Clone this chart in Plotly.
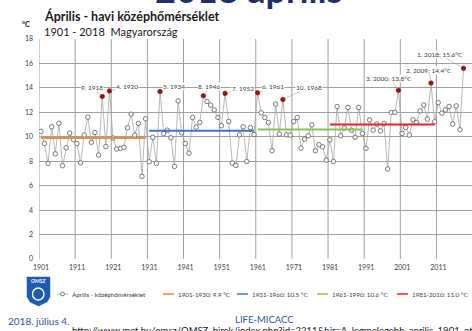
import plotly.graph_objects as go

# April monthly mean temperature, Hungary, 1901-2018 (°C)
years = list(range(1901, 2019))
temps = [
    10.44, 9.45, 7.82, 10.82, 8.60, 11.10, 7.63, 9.10, 10.30, 9.78,   # 1901-1910
    9.45, 7.87, 10.14, 11.60, 9.54, 10.35, 8.50, 13.30, 9.20, 13.75,  # 1911-1920
    9.90, 9.00, 9.05, 9.13, 10.74, 11.85, 10.14, 11.10, 6.76, 11.47,  # 1921-1930
    7.96, 9.95, 7.82, 13.70, 10.27, 10.54, 9.92, 7.57, 12.94, 10.33,  # 1931-1940
    9.45, 8.66, 11.58, 10.79, 11.17, 13.35, 12.89, 12.59, 12.20, 11.58,  # 1941-1950
    10.90, 13.55, 11.25, 7.85, 7.66, 10.16, 10.82, 7.98, 10.75, 10.18,  # 1951-1960
    13.60, 11.96, 11.58, 11.17, 8.86, 12.67, 10.22, 13.05, 10.16, 10.14,  # 1961-1970
    11.25, 11.58, 9.07, 9.80, 10.08, 10.98, 8.86, 9.35, 9.18, 8.09,  # 1971-1980
    9.75, 7.98, 12.48, 10.08, 10.71, 12.40, 10.54, 9.95, 12.40, 10.27,  # 1981-1990
    9.05, 11.39, 10.54, 11.04, 10.49, 11.09, 7.36, 11.99, 11.99, 13.80,  # 1991-2000
    10.27, 10.76, 10.14, 11.39, 11.17, 12.12, 12.60, 11.44, 14.40, 11.23,  # 2001-2010
    12.80, 11.93, 12.20, 12.48, 11.04, 12.53, 10.57, 15.60,  # 2011-2018
]

# Climate normals: (first year, last year, mean, colour)
period_start = [1901, 1931, 1961, 1981]
period_end = [1930, 1960, 1990, 2010]
period_mean = [9.9, 10.5, 10.6, 11.0]
period_color = ["#F08A3C", "#4472C4", "#8CC152", "#FF1A1A"]

series_name = "Április - középhőmérséklet"
decade_labels = [str(y) for y in range(1901, 2012, 10)]
y_ticks = list(range(0, 19, 2))

W, H = 472, 331
L, R, T, B = 39, 0, 39, 72
PW, PH = W - L - R, H - T - B


def px(xp):
    return (xp - L) / PW


def py(yp):
    return (H - B - yp) / PH


# Ten warmest Aprils, ranked
ranked = sorted(zip(years, temps), key=lambda t: -t[1])[:10]
rank_of = {y: i + 1 for i, (y, v) in enumerate(ranked)}
# label offsets (pixels) for the leader lines
label_offset = {
    2018: (-24, -14), 2009: (-2, -13), 2000: (-9, -12), 1920: (18, -4),
    1934: (14, -5), 1961: (15, -6), 1952: (18, -5), 1946: (6, -9),
    1918: (-10, -9), 1968: (26, -12),
}

fig = go.Figure()

fig.add_trace(go.Scatter(
    x=years, y=temps, mode="lines+markers", name=series_name,
    line=dict(color="#A6A6A6", width=0.8),
    marker=dict(symbol="circle", size=4.5, color="white",
                line=dict(color="#595959", width=0.8)),
    showlegend=False,
))

top_years = [y for y, v in ranked]
top_vals = [v for y, v in ranked]
fig.add_trace(go.Scatter(
    x=top_years, y=top_vals, mode="markers",
    marker=dict(symbol="circle", size=4, color="#C00000",
                line=dict(color="#8B0000", width=0.5)),
    showlegend=False,
))

for s, e, m, c in zip(period_start, period_end, period_mean, period_color):
    fig.add_trace(go.Scatter(
        x=[s, e], y=[m, m], mode="lines",
        line=dict(color=c, width=2), showlegend=False,
    ))

annotations = []
for y, v in ranked:
    r = rank_of[y]
    if r <= 3:
        txt = f"{r}. {y}; " + f"{v:.1f}".replace(".", ",") + "°C"
    else:
        txt = f"{r}. {y}"
    ax, ay = label_offset[y]
    annotations.append(dict(
        x=y, y=v, xref="x", yref="y", text=txt, showarrow=True,
        arrowhead=0, arrowwidth=0.6, arrowcolor="#A6A6A6",
        ax=ax, ay=ay, standoff=2, bgcolor="white", borderpad=0,
        font=dict(family="Lato", size=6.5, color="#404040"),
    ))

# Slide heading, title and subtitle
annotations += [
    dict(x=px(248), y=py(13), xref="paper", yref="paper", text="<b>2018 április</b>",
         showarrow=False, xanchor="center", yanchor="bottom",
         font=dict(family="Lato", size=36, color="#1F2F6B")),
    dict(x=px(42), y=py(16.5), xref="paper", yref="paper",
         text="<b>Április - havi középhőmérséklet</b>", showarrow=False,
         xanchor="left", yanchor="middle",
         font=dict(family="Lato", size=12.5, color="#1A1A1A")),
    dict(x=px(42), y=py(31.5), xref="paper", yref="paper",
         text="1901 - 2018  Magyarország", showarrow=False,
         xanchor="left", yanchor="middle",
         font=dict(family="Lato", size=11, color="#1A1A1A")),
    dict(x=px(26), y=py(25), xref="paper", yref="paper", text="<b>°C</b>",
         showarrow=False, xanchor="center", yanchor="middle",
         font=dict(family="Lato", size=7.5, color="#1A1A1A")),
    dict(x=px(6), y=py(321), xref="paper", yref="paper", text="2018. július 4.",
         showarrow=False, xanchor="left", yanchor="middle",
         font=dict(family="Lato", size=10, color="#2F5597")),
    dict(x=px(233), y=py(319), xref="paper", yref="paper", text="LIFE-MICACC",
         showarrow=False, xanchor="left", yanchor="middle",
         font=dict(family="Lato", size=9.5, color="#2F5597")),
    dict(x=px(70), y=py(330), xref="paper", yref="paper",
         text="http://www.met.hu/omsz/OMSZ_hirek/index.php?id=2211&hir=A_legmelegebb_aprilis_1901_ota",
         showarrow=False, xanchor="left", yanchor="middle",
         font=dict(family="Lato", size=9.5, color="#1A1A1A")),
    dict(x=px(38.5), y=py(281), xref="paper", yref="paper", text="<b>OMSZ</b>",
         showarrow=False, xanchor="center", yanchor="middle",
         font=dict(family="Lato", size=5, color="white")),
]

shapes = []
# vertical grid lines at decade boundaries
for d in range(1900, 2021, 10):
    shapes.append(dict(type="line", xref="x", yref="paper", x0=d + 0.5, x1=d + 0.5,
                       y0=0, y1=1, line=dict(color="#A0A0A0", width=1), layer="below"))

# legend drawn along the bottom
LEG_Y = 294
shapes.append(dict(type="line", xref="paper", yref="paper", x0=px(57), x1=px(68),
                   y0=py(LEG_Y), y1=py(LEG_Y), line=dict(color="#A6A6A6", width=0.8)))
shapes.append(dict(type="circle", xref="paper", yref="paper", x0=px(60.6), x1=px(64.4),
                   y0=py(LEG_Y + 1.9), y1=py(LEG_Y - 1.9),
                   fillcolor="white", line=dict(color="#595959", width=0.8)))
annotations.append(dict(x=px(70), y=py(LEG_Y), xref="paper", yref="paper", text=series_name,
                        showarrow=False, xanchor="left", yanchor="middle",
                        font=dict(family="Lato", size=6.3, color="#404040")))
leg_line_x = [163, 237, 317, 397]
for lx, s, e, m, c in zip(leg_line_x, period_start, period_end, period_mean, period_color):
    shapes.append(dict(type="line", xref="paper", yref="paper", x0=px(lx), x1=px(lx + 11),
                       y0=py(LEG_Y), y1=py(LEG_Y), line=dict(color=c, width=1.5)))
    annotations.append(dict(x=px(lx + 13), y=py(LEG_Y), xref="paper", yref="paper",
                            text=f"{s}-{e}: {m:.1f} °C", showarrow=False,
                            xanchor="left", yanchor="middle",
                            font=dict(family="Lato", size=6.3, color="#404040")))

# OMSZ shield
def path(points):
    return "M " + " L ".join(f"{px(a):.5f},{py(b):.5f}" for a, b in points) + " Z"

shapes.append(dict(type="path", xref="paper", yref="paper",
                   path=path([(27, 277), (50, 277), (50, 297), (47, 302), (38.5, 306),
                              (30, 302), (27, 297)]),
                   fillcolor="#1F5BB0", line=dict(color="#1F5BB0", width=0.5)))
shapes.append(dict(type="circle", xref="paper", yref="paper", x0=px(32.5), x1=px(44),
                   y0=py(300), y1=py(288), fillcolor="rgba(0,0,0,0)",
                   line=dict(color="white", width=1.4)))

fig.update_layout(
    width=W, height=H,
    margin=dict(l=L, r=R, t=T, b=B),
    paper_bgcolor="white", plot_bgcolor="white",
    showlegend=False,
    xaxis=dict(
        range=[1900.5, 1900.5 + PW / 3.613],
        tickvals=[y - 0.5 for y in range(1901, 2012, 10)],
        ticktext=decade_labels, ticklabelshift=2, ticks="",
        showgrid=False, zeroline=False, showline=False,
        tickfont=dict(family="Lato", size=7, color="#404040"),
        ticklabelstandoff=3,
    ),
    yaxis=dict(
        range=[0, 18], tickvals=y_ticks, ticks="",
        showgrid=True, gridcolor="#A0A0A0", gridwidth=1,
        zeroline=False, showline=False,
        tickfont=dict(family="Lato", size=7, color="#404040"),
        ticklabelstandoff=5,
    ),
    annotations=annotations,
    shapes=shapes,
)

fig.write_html("out.html")
